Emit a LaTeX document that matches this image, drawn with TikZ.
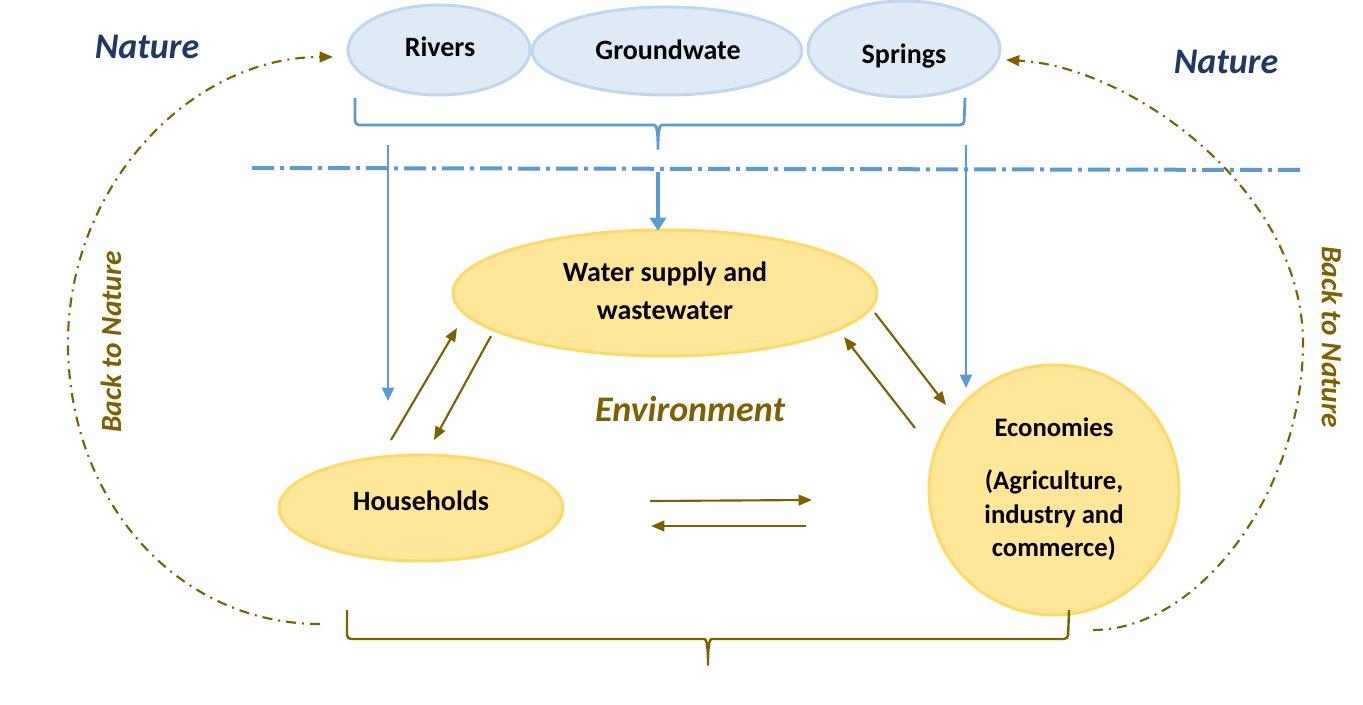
\documentclass[tikz,border=0pt]{standalone}
\usepackage{fontspec}
\setmainfont{Carlito}
\usetikzlibrary{arrows.meta,shapes.geometric}
\definecolor{bluel}{HTML}{5B9BD5}
\definecolor{bfill}{HTML}{DEEBF7}
\definecolor{bdraw}{HTML}{BDD7EE}
\definecolor{yfill}{HTML}{FFE699}
\definecolor{ydraw}{HTML}{FFD966}
\definecolor{brn}{HTML}{7F6000}
\definecolor{navy}{HTML}{1F3864}
\begin{document}
\begin{tikzpicture}[x=0.75pt,y=-0.75pt,
  src/.style={ellipse,fill=bfill,draw=bdraw,line width=2.25pt,inner sep=0pt},
  use/.style={ellipse,fill=yfill,draw=ydraw,line width=2.25pt,inner sep=0pt},
  lbl/.style={font=\fontsize{21}{28.5}\selectfont\bfseries,align=center,inner sep=0pt,text=black},
  big/.style={font=\fontsize{27}{32}\selectfont\bfseries\itshape,inner sep=0pt},
  back/.style={font=\fontsize{22}{26}\selectfont\bfseries\itshape,text=brn,inner sep=0pt},
  bline/.style={draw=bluel,line width=1.5pt},
  barr/.style={bline,-{Triangle[length=10pt,width=9pt]}},
  warr/.style={draw=brn,line width=1.6pt,-{Triangle[length=10pt,width=8pt]}},
  retarc/.style={draw=brn,line width=1.6pt,dash pattern=on 7.5pt off 4.5pt on 1.5pt off 4.5pt,-{Triangle[length=10pt,width=8pt]}}
]
\useasboundingbox (0,0) rectangle (1363,705);

% sources
\node[src,minimum width=136.5pt,minimum height=67.5pt] (riv) at (439,50) {};
\node[src,minimum width=202.5pt,minimum height=66pt] (gw) at (667,51) {};
\node[src,minimum width=144pt,minimum height=72pt] (spr) at (904,49) {};
\node[lbl] (rivt) at (440,47) {Rivers};
\node[lbl] (gwt) at (668,50) {Groundwate};
\node[lbl] (sprt) at (904,56) {Springs};

% labels
\node[big,text=navy] (nat1) at (147,47) {Nature};
\node[big,text=navy] (nat2) at (1226,62) {Nature};
\node[big,text=brn] (env) at (690,409) {Environment};
\node[back,rotate=90] (bk1) at (111,342) {Back to Nature};
\node[back,rotate=-90] (bk2) at (1332,337) {Back to Nature};

% users
\node[use,minimum width=318pt,minimum height=94.5pt] (ws) at (665,293) {};
\node[lbl] (wst) at (665,291) {Water supply and\\wastewater};
\node[use,minimum width=213pt,minimum height=79.5pt] (hh) at (421,508) {};
\node[lbl] (hht) at (421,501) {Households};
\node[use,minimum width=187.5pt,minimum height=187.5pt] (eco) at (1054,490) {};
\node[lbl,font=\fontsize{20}{25}\selectfont\bfseries] (ecot) at (1054,489) {Economies\\[15pt](Agriculture,\\industry and\\commerce)};

% blue bracket
\draw[draw=bluel,line width=2.1pt,rounded corners=3pt] (355,98) -- (355,125) -- (650,125)
  .. controls (656,125) and (658,128) .. (658,152)
  .. controls (658,128) and (660,125) .. (666,125) -- (964,125) -- (965,98);

% blue dash-dot boundary
\coordinate (dl) at (252,168);
\coordinate (dr) at (1306,170);
\draw[draw=bluel,line width=3pt,dash pattern=on 16.5pt off 4.5pt on 3pt off 4.5pt] (dl) -- (dr);

% blue arrows
\coordinate (b1s) at (388,145);
\coordinate (b1e) at (388,401);
\coordinate (b2s) at (966,145);
\coordinate (b2e) at (966,388);
\coordinate (b3s) at (658,172);
\coordinate (b3e) at (658,231);
\draw[barr] (b1s) -- (b1e);
\draw[barr] (b2s) -- (b2e);
\draw[draw=bluel,line width=2.6pt,-{Triangle[length=10pt,width=12pt]}] (b3s) -- (b3e);

% brown flows
\coordinate (h1s) at (391,440); \coordinate (h1e) at (457,328);
\coordinate (h2s) at (491,336); \coordinate (h2e) at (434,440);
\coordinate (e1s) at (875,313); \coordinate (e1e) at (946,405);
\coordinate (e2s) at (915,428); \coordinate (e2e) at (844,337);
\coordinate (m1s) at (650,501); \coordinate (m1e) at (812,500);
\coordinate (m2s) at (806,526); \coordinate (m2e) at (651,526);
\draw[warr] (h1s) -- (h1e);
\draw[warr] (h2s) -- (h2e);
\draw[warr] (e1s) -- (e1e);
\draw[warr] (e2s) -- (e2e);
\draw[warr] (m1s) -- (m1e);
\draw[warr] (m2s) -- (m2e);

% brown bracket
\draw[draw=brn,line width=1.8pt,rounded corners=3pt] (347,610) -- (347,639) -- (700,639)
  .. controls (706,639) and (708,642) .. (708,668)
  .. controls (708,642) and (710,639) .. (716,639) -- (1068,639) -- (1069,610);

% back to nature arcs
\coordinate (la) at (320,624);
\coordinate (lt) at (333,57);
\coordinate (ra) at (1093,630);
\coordinate (rt) at (1006,60);
\draw[retarc] (la) .. controls (176,624) and (68,499) .. (68,343)
  .. controls (68,187) and (190,57) .. (lt);
\draw[retarc] (ra) .. controls (1200,630) and (1303,490) .. (1303,343)
  .. controls (1303,190) and (1130,66) .. (rt);
\end{tikzpicture}
\end{document}
